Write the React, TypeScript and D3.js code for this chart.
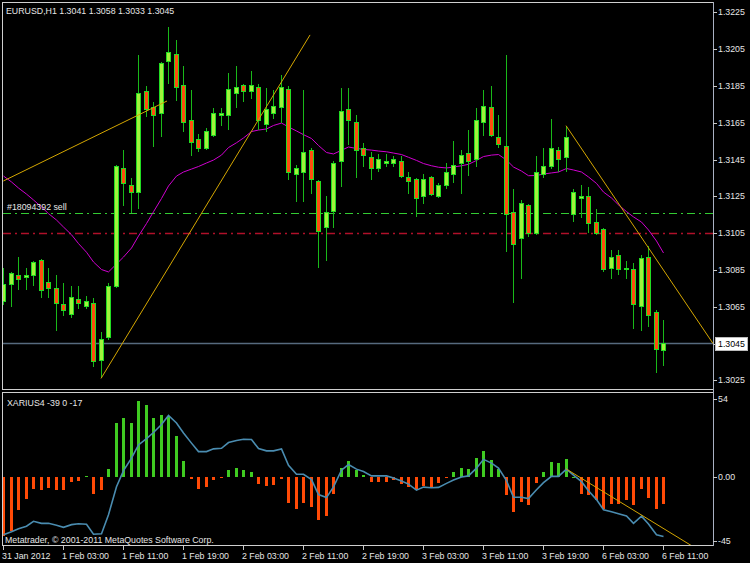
import React from "react";
import * as d3 from "d3";

// ---------- DATA ----------
const opens = [1.3068,1.3077,1.3082,1.3081,1.3082,1.3090,1.3078,1.3075,1.3066,1.3061,1.3069,1.3065,1.3067,1.3036,1.3048,1.3076,1.3140,1.3131,1.3127,1.3182,1.3173,1.3170,1.3198,1.3202,1.3185,1.3166,1.3156,1.3151,1.3158,1.3169,1.3169,1.3181,1.3185,1.3182,1.3184,1.3164,1.3170,1.3173,1.3183,1.3137,1.3138,1.3150,1.3133,1.3108,1.3117,1.3144,1.3172,1.3165,1.3151,1.3146,1.3140,1.3143,1.3143,1.3144,1.3135,1.3134,1.3125,1.3135,1.3125,1.3131,1.3137,1.3143,1.3148,1.3145,1.3165,1.3173,1.3157,1.3152,1.3116,1.3102,1.3120,1.3105,1.3137,1.3141,1.3150,1.3146,1.3115,1.3124,1.3125,1.3111,1.3107,1.3086,1.3093,1.3085,1.3085,1.3065,1.3092,1.3062,1.3041];
const highs = [1.3086,1.3084,1.3092,1.3086,1.3090,1.3091,1.3086,1.3082,1.3078,1.3076,1.3076,1.3071,1.3070,1.3051,1.3078,1.3142,1.3150,1.3135,1.3202,1.3185,1.3176,1.3198,1.3217,1.3210,1.3196,1.3183,1.3159,1.3162,1.3173,1.3173,1.3192,1.3196,1.3186,1.3193,1.3186,1.3184,1.3183,1.3191,1.3185,1.3142,1.3183,1.3151,1.3134,1.3125,1.3144,1.3184,1.3184,1.3169,1.3154,1.3149,1.3148,1.3148,1.3147,1.3147,1.3138,1.3135,1.3137,1.3136,1.3132,1.3143,1.3155,1.3150,1.3161,1.3173,1.3183,1.3185,1.3169,1.3202,1.3129,1.3123,1.3121,1.3147,1.3151,1.3167,1.3152,1.3163,1.3129,1.3131,1.3130,1.3118,1.3108,1.3096,1.3096,1.3090,1.3089,1.3093,1.3098,1.3063,1.3058];
const lows = [1.3066,1.3065,1.3074,1.3074,1.3076,1.3070,1.3070,1.3052,1.3060,1.3059,1.3064,1.3064,1.3032,1.3026,1.3047,1.3075,1.3120,1.3116,1.3118,1.3168,1.3152,1.3157,1.3186,1.3177,1.3160,1.3147,1.3149,1.3150,1.3157,1.3163,1.3161,1.3173,1.3176,1.3178,1.3161,1.3160,1.3167,1.3165,1.3134,1.3122,1.3122,1.3126,1.3086,1.3090,1.3108,1.3130,1.3153,1.3135,1.3141,1.3134,1.3138,1.3141,1.3141,1.3135,1.3126,1.3114,1.3121,1.3125,1.3124,1.3129,1.3132,1.3126,1.3136,1.3141,1.3158,1.3157,1.3151,1.3095,1.3067,1.3080,1.3103,1.3104,1.3135,1.3140,1.3138,1.3138,1.3111,1.3113,1.3105,1.3104,1.3084,1.3080,1.3082,1.3080,1.3053,1.3052,1.3054,1.3029,1.3033];
const closes = [1.3077,1.3083,1.3080,1.3082,1.3089,1.3074,1.3075,1.3067,1.3063,1.3070,1.3067,1.3068,1.3035,1.3047,1.3076,1.3141,1.3132,1.3127,1.3181,1.3172,1.3169,1.3197,1.3203,1.3184,1.3165,1.3154,1.3151,1.3160,1.3170,1.3170,1.3183,1.3184,1.3182,1.3185,1.3166,1.3172,1.3174,1.3184,1.3138,1.3140,1.3149,1.3134,1.3106,1.3116,1.3143,1.3171,1.3166,1.3150,1.3147,1.3140,1.3145,1.3144,1.3145,1.3136,1.3133,1.3124,1.3134,1.3126,1.3131,1.3138,1.3142,1.3147,1.3144,1.3166,1.3174,1.3158,1.3153,1.3115,1.3099,1.3121,1.3105,1.3138,1.3141,1.3151,1.3145,1.3157,1.3127,1.3125,1.3110,1.3105,1.3085,1.3092,1.3085,1.3086,1.3066,1.3091,1.3060,1.3042,1.3045];
const maValues = [1.31360,1.31328,1.31295,1.31262,1.31230,1.31192,1.31156,1.31121,1.31083,1.31041,1.30993,1.30946,1.30893,1.30852,1.30839,1.30882,1.30920,1.30969,1.31034,1.31102,1.31166,1.31238,1.31306,1.31360,1.31382,1.31398,1.31412,1.31431,1.31447,1.31474,1.31515,1.31541,1.31567,1.31602,1.31610,1.31616,1.31635,1.31648,1.31627,1.31605,1.31585,1.31564,1.31526,1.31488,1.31480,1.31500,1.31518,1.31510,1.31505,1.31501,1.31496,1.31492,1.31485,1.31477,1.31462,1.31445,1.31428,1.31416,1.31408,1.31404,1.31409,1.31416,1.31424,1.31445,1.31466,1.31474,1.31477,1.31447,1.31409,1.31387,1.31362,1.31363,1.31371,1.31377,1.31382,1.31401,1.31393,1.31382,1.31355,1.31320,1.31273,1.31241,1.31203,1.31167,1.31138,1.31110,1.31067,1.31007,1.30942];
const histValues = [-41,-38,-23,-15.7,-8.8,-9.3,-7.9,-9.3,-9.3,-4,-2.8,0.5,-12,-9,5.2,37,41,37,52.5,49.5,41,43.2,42.5,28,10.7,-1.6,-8.6,-7.4,-2.3,-1.2,4.8,6,4.3,3,-5.4,-6.8,-6.1,-2,-18.3,-22.3,-18.3,-21.1,-30.2,-27.1,-11.9,6.3,11,4.9,0.8,-3.8,-3.4,-3.4,-2.7,-4.9,-7.2,-9.6,-6.8,-7.7,-4.5,-0.9,3,6,5.6,13,17.9,11.4,5.6,-13.1,-24.9,-17.9,-19.8,-4.7,3.5,10,9.3,12.3,0,-12.3,-12.8,-16.3,-22.8,-19.3,-19.3,-16.3,-19.8,-8.8,-14.6,-22.3,-19.3];
const oscValues = [-40.4,-38.3,-36.2,-34.5,-31.1,-32.5,-32.5,-33.8,-35.3,-33.4,-32.8,-33.1,-40.1,-39.7,-26.5,-7,4.2,12.9,22,26.5,30.7,36.2,42.5,37.3,30.3,23.3,17.4,17.4,19.3,19.7,23.7,25.1,26,25.8,19.5,17.9,17.9,19.2,7.9,1.6,1.6,-2.1,-12.5,-14.6,-7.2,4.5,8.4,5.2,3.5,0.5,0.5,0.5,-1,-3.1,-5.2,-9.4,-7.3,-7.7,-7.5,-4.7,-2.4,-0.2,0.5,5.9,12,9.4,5.9,-2.8,-14.4,-14.4,-15.3,-9.1,-4.2,0.2,0.2,5.2,1,-3.5,-9.8,-16,-23,-24.4,-25.8,-27.4,-32.5,-27.5,-33,-40.4,-41.6];

const timeTickIndex = [0, 8, 16, 24, 32, 40, 48, 56, 64, 72, 80, 88];
const timeTickLabels = ["31 Jan 2012", "1 Feb 03:00", "1 Feb 11:00", "1 Feb 19:00", "2 Feb 03:00", "2 Feb 11:00", "2 Feb 19:00", "3 Feb 03:00", "3 Feb 11:00", "3 Feb 19:00", "6 Feb 03:00", "6 Feb 11:00"];
const priceTicks = [1.3225, 1.3205, 1.3185, 1.3165, 1.3145, 1.3125, 1.3105, 1.3085, 1.3065, 1.3045, 1.3025];
const indTicks = [54, 0, -45];
const indTickLabels = ["54", "0.00", "-45"];

// trend lines: [barIndex0, price0, barIndex1, price1]
const priceTrendLines = [
  [0, 1.31333, 21.83, 1.31768],
  [13.03, 1.3026, 40.9, 1.32127],
  [75.03, 1.31634, 94.63, 1.3045],
];
const indTrendLines = [[75, 5.5, 92, -48.8]];

const sellLevel = 1.3116;
const stopLevel = 1.3105;
const currentPrice = 1.3045;
const headerText = "EURUSD,H1  1.3041 1.3058 1.3033 1.3045";
const sellLabel = "#18094392 sell";
const indicatorTitle = "XARIUS4 -39 0 -17";
const copyright = "Metatrader, \u00A9 2001-2011 MetaQuotes Software Corp.";

// ---------- STYLE ----------
const FONT = "'Liberation Sans', Arial, sans-serif";
const FS = 8.8;
const TXT = "#e6e6e6";

export default function App() {
  const n = opens.length;
  const x = d3.scaleLinear().domain([0, n - 1]).range([3.3, 663.3]);
  const y = d3.scaleLinear().domain([1.3025, 1.3225]).range([380.3, 12.3]);
  const yi = d3.scaleLinear().domain([-45, 54]).range([541.3, 399]);
  const cx = (i: number) => Math.round(x(i));

  const maLine = d3.line<number>().x((_, i) => cx(i) + 0.5).y((d) => y(d))(maValues) || "";
  const oscLine = d3.line<number>().x((_, i) => cx(i) + 0.5).y((d) => yi(d))(oscValues) || "";

  const wickC = "#19b919";
  const edgeC = "#22dd22";
  const bullFill = "#a0f23c";
  const bearFill = "#ff4d0d";

  return (
    <div style={{ position: "fixed", left: 0, top: 0, width: 750, height: 563, background: "#000" }}>
      <svg width={750} height={563} style={{ display: "block", background: "#000" }} fontFamily={FONT}>
        <defs>
          <clipPath id="mainClip"><rect x={3} y={3} width={710} height={386} /></clipPath>
          <clipPath id="indClip"><rect x={3} y={393} width={710} height={152} /></clipPath>
        </defs>
        <rect x={0} y={0} width={750} height={563} fill="#000" />

        {/* main panel */}
        <g clipPath="url(#mainClip)">
          {/* sell & stop lines */}
          <line x1={3} x2={713} y1={Math.round(y(sellLevel)) + 0.5} y2={Math.round(y(sellLevel)) + 0.5} stroke="#33cc33" strokeDasharray="8 4 2 4" shapeRendering="crispEdges" />
          <line x1={3} x2={713} y1={Math.round(y(stopLevel)) + 0.5} y2={Math.round(y(stopLevel)) + 0.5} stroke="#b0102a" strokeWidth={1.5} strokeDasharray="8 4 2 4" />
          {/* current price line */}
          <line x1={3} x2={713} y1={y(currentPrice)} y2={y(currentPrice)} stroke="#566a7e" strokeWidth={1.5} />
          {/* MA */}
          <path d={maLine} fill="none" stroke="#d000d0" strokeWidth={1} />
          {/* candles */}
          {opens.map((o, i) => {
            const c = closes[i];
            const X = cx(i);
            const top = y(Math.max(o, c));
            const bot = y(Math.min(o, c));
            const bull = c >= o;
            return (
              <g key={i} shapeRendering="crispEdges">
                <line x1={X + 0.5} x2={X + 0.5} y1={y(highs[i])} y2={y(lows[i])} stroke={wickC} strokeWidth={1} />
                <rect x={X - 1.5} y={top} width={4} height={Math.max(1.5, bot - top)} fill={bull ? bullFill : bearFill} stroke={edgeC} strokeWidth={1} />
              </g>
            );
          })}
          {/* trend lines */}
          {priceTrendLines.map((t, k) => (
            <line key={k} x1={x(t[0])} y1={y(t[1])} x2={x(t[2])} y2={y(t[3])} stroke="#d4a600" strokeWidth={1} />
          ))}
        </g>
        <text x={7} y={y(sellLevel) - 3} fill={TXT} fontSize={FS}>{sellLabel}</text>
        <text x={6} y={13.5} fill={TXT} fontSize={FS}>{headerText}</text>

        {/* indicator panel */}
        <g clipPath="url(#indClip)">
          {histValues.map((v, i) => {
            const X = cx(i);
            const y0 = yi(0);
            const y1 = yi(v);
            return (
              <rect key={i} x={X - 1} y={Math.min(y0, y1)} width={3} height={Math.max(1, Math.abs(y1 - y0))}
                fill={v >= 0 ? "#3fcb21" : "#ff4a06"} shapeRendering="crispEdges" />
            );
          })}
          <path d={oscLine} fill="none" stroke="#4a8cb0" strokeWidth={1.6} />
          {indTrendLines.map((t, k) => (
            <line key={k} x1={x(t[0])} y1={yi(t[1])} x2={x(t[2])} y2={yi(t[3])} stroke="#d4a600" strokeWidth={1} />
          ))}
        </g>
        <text x={7} y={405.5} fill={TXT} fontSize={FS}>{indicatorTitle}</text>
        <text x={5} y={542.5} fill={TXT} fontSize={FS}>{copyright}</text>

        {/* frames */}
        <g shapeRendering="crispEdges" fill="none">
          <rect x={2.5} y={2.5} width={711} height={387} stroke="#cfcfcf" />
          <rect x={2.5} y={392.5} width={711} height={153} stroke="#cfcfcf" />
          <line x1={713.5} x2={713.5} y1={2} y2={546} stroke="#a9b1c2" />
        </g>

        {/* price axis */}
        {priceTicks.map((p) => (
          <g key={p}>
            <line x1={713} x2={717} y1={Math.round(y(p)) + 0.5} y2={Math.round(y(p)) + 0.5} stroke="#c8c8c8" shapeRendering="crispEdges" />
            <text x={718} y={y(p) + 3} fill={TXT} fontSize={FS}>{d3.format(".4f")(p)}</text>
          </g>
        ))}
        <rect x={715.5} y={Math.round(y(currentPrice)) - 6.5} width={32} height={13} fill="#fff" stroke="#bbb" shapeRendering="crispEdges" />
        <text x={718} y={y(currentPrice) + 3} fill="#000" fontSize={FS}>{d3.format(".4f")(currentPrice)}</text>

        {/* indicator axis */}
        {indTicks.map((v, k) => (
          <g key={v}>
            <line x1={713} x2={717} y1={Math.round(yi(v)) + 0.5} y2={Math.round(yi(v)) + 0.5} stroke="#c8c8c8" shapeRendering="crispEdges" />
            <text x={718} y={yi(v) + 3} fill={TXT} fontSize={FS}>{indTickLabels[k]}</text>
          </g>
        ))}

        {/* time axis */}
        {timeTickIndex.map((idx, k) => (
          <g key={idx}>
            <line x1={cx(idx) + 0.5} x2={cx(idx) + 0.5} y1={546} y2={550} stroke="#c8c8c8" shapeRendering="crispEdges" />
            <text x={cx(idx) - 1} y={559} fill={TXT} fontSize={FS}>{timeTickLabels[k]}</text>
          </g>
        ))}
      </svg>
    </div>
  );
}
